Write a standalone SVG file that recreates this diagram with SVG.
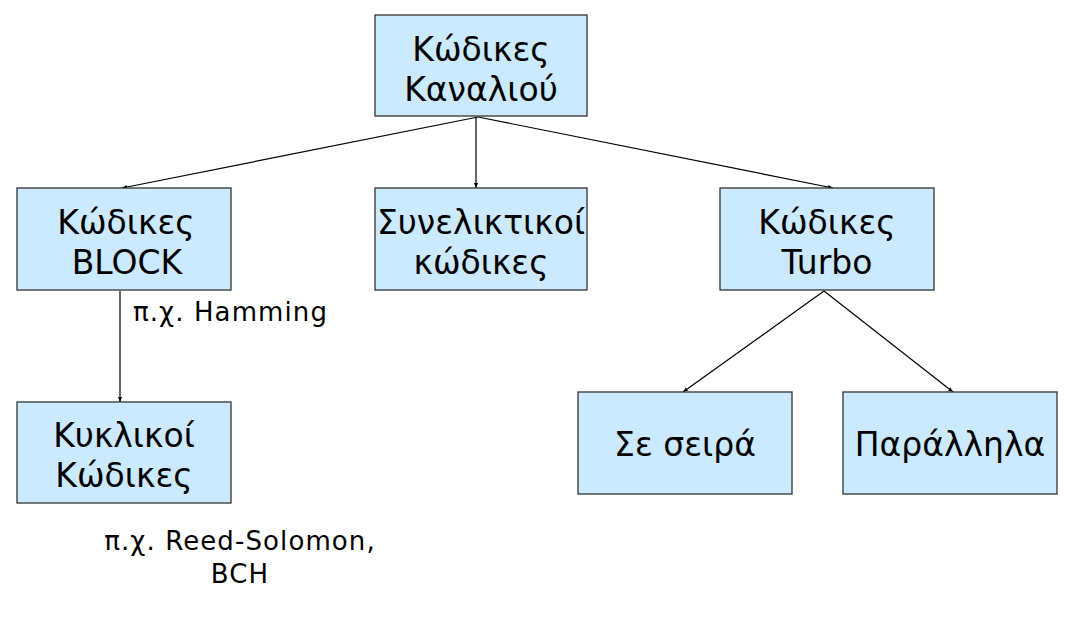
<svg xmlns="http://www.w3.org/2000/svg" width="1074" height="637" viewBox="0 0 1074 637">
<style>
.box{fill:#cceaff;stroke:#333333;stroke-width:1.3}
.t{font-family:"DejaVu Sans",Verdana,sans-serif;font-size:33px;fill:#000;text-anchor:middle}
.l{font-family:"DejaVu Sans",Verdana,sans-serif;font-size:26px;letter-spacing:1.1px;fill:#000}
.c{stroke:#000;stroke-width:1.2;fill:none;marker-end:url(#ah)}
</style>
<defs>
<marker id="ah" viewBox="0 0 10 10" refX="10" refY="5" markerWidth="5" markerHeight="5" orient="auto" markerUnits="userSpaceOnUse">
<path d="M0,1 L10,5 L0,9 Z" fill="#000"/>
</marker>
</defs>
<rect width="1074" height="637" fill="#fff"/>
<g id="connectors">
<line class="c" x1="478" y1="117" x2="122" y2="188"/>
<line class="c" x1="476" y1="117" x2="476" y2="188"/>
<line class="c" x1="478" y1="117" x2="833" y2="188"/>
<line class="c" x1="120" y1="291" x2="120" y2="402"/>
<line class="c" x1="824" y1="291" x2="683" y2="392"/>
<line class="c" x1="824" y1="291" x2="953" y2="392"/>
</g>
<g id="n-kanaliou">
<rect class="box" x="375" y="15" width="212" height="101"/>
<text class="t" x="481" y="61">Κώδικες</text>
<text class="t" x="481" y="101">Καναλιού</text>
</g>
<g id="n-block">
<rect class="box" x="17" y="188" width="214" height="102"/>
<text class="t" x="126" y="234">Κώδικες</text>
<text class="t" x="127" y="274">BLOCK</text>
</g>
<g id="n-syneliktikoi">
<rect class="box" x="375" y="188" width="212" height="102"/>
<text class="t" x="481" y="234">Συνελικτικοί</text>
<text class="t" x="481" y="274">κώδικες</text>
</g>
<g id="n-turbo">
<rect class="box" x="720" y="188" width="214" height="102"/>
<text class="t" x="827" y="234">Κώδικες</text>
<text class="t" x="827" y="274">Turbo</text>
</g>
<g id="n-kyklikoi">
<rect class="box" x="17" y="402" width="214" height="101"/>
<text class="t" x="124" y="447">Κυκλικοί</text>
<text class="t" x="124" y="487">Κώδικες</text>
</g>
<g id="n-seira">
<rect class="box" x="578" y="392" width="214" height="102"/>
<text class="t" x="685" y="456">Σε σειρά</text>
</g>
<g id="n-parallila">
<rect class="box" x="843" y="392" width="214" height="102"/>
<text class="t" x="950" y="456">Παράλληλα</text>
</g>
<g id="labels">
<text class="l" x="133" y="321">π.χ. Hamming</text>
<text class="l" x="240" y="550" text-anchor="middle">π.χ. Reed-Solomon,</text>
<text class="l" x="240" y="583" text-anchor="middle">BCH</text>
</g>
</svg>
